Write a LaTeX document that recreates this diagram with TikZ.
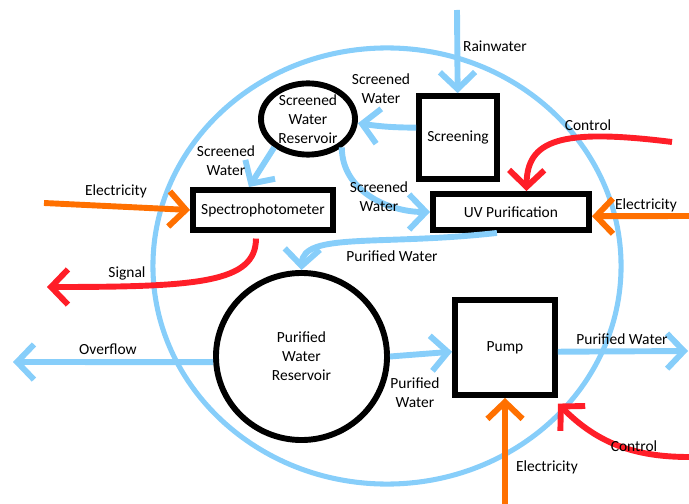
\documentclass[tikz,border=0pt]{standalone}
\usepackage{fontspec}
\setmainfont{Carlito}
\usetikzlibrary{arrows.meta,shapes.geometric}
\definecolor{water}{RGB}{135,206,250}
\definecolor{power}{RGB}{255,112,0}
\definecolor{ctrl}{RGB}{255,30,40}

\begin{document}
\begin{tikzpicture}[x=0.025cm,y=0.025cm,
    font=\fontsize{11}{13.5}\selectfont,
    box/.style={draw,fill=white,rectangle,line width=4.2pt,align=center},
    tank/.style={draw,fill=white,ellipse,line width=4.2pt,inner sep=0pt},
    txt/.style={align=center,inner sep=1pt},
    flow/.style={line width=4.2pt,-{Straight Barb[length=12pt,width=25pt]}},
    wflow/.style={flow,draw=water},
    eflow/.style={flow,draw=power},
    cflow/.style={flow,draw=ctrl}]

    \useasboundingbox (0,0) rectangle (689,-504);

    % loop of the system
    \draw[water,line width=3.6pt] (387,-266) ellipse [x radius=5.85cm, y radius=5.45cm];

    \node[box,minimum width=1.95cm,minimum height=2.07cm] (1) at (458,-137.5) {Screening};
    \node[tank,minimum width=2.35cm,minimum height=1.78cm,
        label={[txt]center:Screened\\Water\\Reservoir}] (2) at (308,-119) {};
    \node[box,minimum width=3.5cm,minimum height=1cm] (3) at (263,-210) {Spectrophotometer};
    \node[box,minimum width=3.9cm,minimum height=0.9cm] (4) at (511,-212) {UV Purification};
    \node[tank,minimum width=4.275cm,minimum height=4.175cm,
        label={[txt]center:Purified\\Water\\Reservoir}] (5) at (301.5,-356.5) {};
    \node[box,minimum width=2.5cm,minimum height=2.375cm] (6) at (505,-347.5) {Pump};

    % free ends
    \coordinate (rain) at (457,-10);
    \coordinate (el1) at (44,-203);
    \coordinate (sig) at (47,-287);
    \coordinate (ct1) at (672,-142);
    \coordinate (el2) at (689,-216);
    \coordinate (ovf) at (13,-362);
    \coordinate (pwout) at (688,-351);
    \coordinate (el3) at (505,-504);
    \coordinate (ct2) at (689,-457);

    \draw[wflow] (rain) -- (1);
    \draw[wflow] ([yshift=7pt]1.west) to[bend left=4] ([yshift=-3pt]2.east);
    \draw[wflow] (2.220) -- ([xshift=-10pt]3.north);
    \draw[wflow] (2.320) to[out=-90,in=180] (4.west);
    \draw[wflow] ([xshift=-10pt]4.south) .. controls (380,-246) and (303,-232) .. (5.north);
    \draw[cflow,shorten <=4pt] ([xshift=-5pt]3.south) .. controls +(0,-50) and +(150,0) .. (sig);
    \draw[eflow] (el1) -- (3.west);
    \draw[cflow] (ct1) .. controls (560,-128) and (527,-140) .. ([xshift=11pt]4.north);
    \draw[eflow] (el2) -- ([yshift=-3pt]4.east);
    \draw[wflow] ([yshift=-4pt]5.west) -- (ovf);
    \draw[wflow] (5.east) -- ([yshift=-3pt]6.west);
    \draw[wflow] ([yshift=-3pt]6.east) -- (pwout);
    \draw[eflow] (el3) -- (6.south);
    \draw[cflow] (ct2) to[out=180,in=-45] ([yshift=-4pt]6.south east);

    % labels
    \node (l1) at (495,-46) {Rainwater};
    \node[txt] (l2) at (381,-89) {Screened\\Water};
    \node[txt] (l3) at (226,-161) {Screened\\Water};
    \node (l4) at (116,-191) {Electricity};
    \node (l5) at (127,-273) {Signal};
    \node[txt] (l6) at (379,-197) {Screened\\Water};
    \node (l7) at (588,-125) {Control};
    \node (l8) at (646,-205) {Electricity};
    \node (l9) at (392,-256) {Purified Water};
    \node (l10) at (108,-349) {Overflow};
    \node[txt] (l11) at (415,-393) {Purified\\Water};
    \node (l12) at (622,-339) {Purified Water};
    \node (l13) at (547,-467) {Electricity};
    \node (l14) at (634,-446) {Control};
\end{tikzpicture}
\end{document}
